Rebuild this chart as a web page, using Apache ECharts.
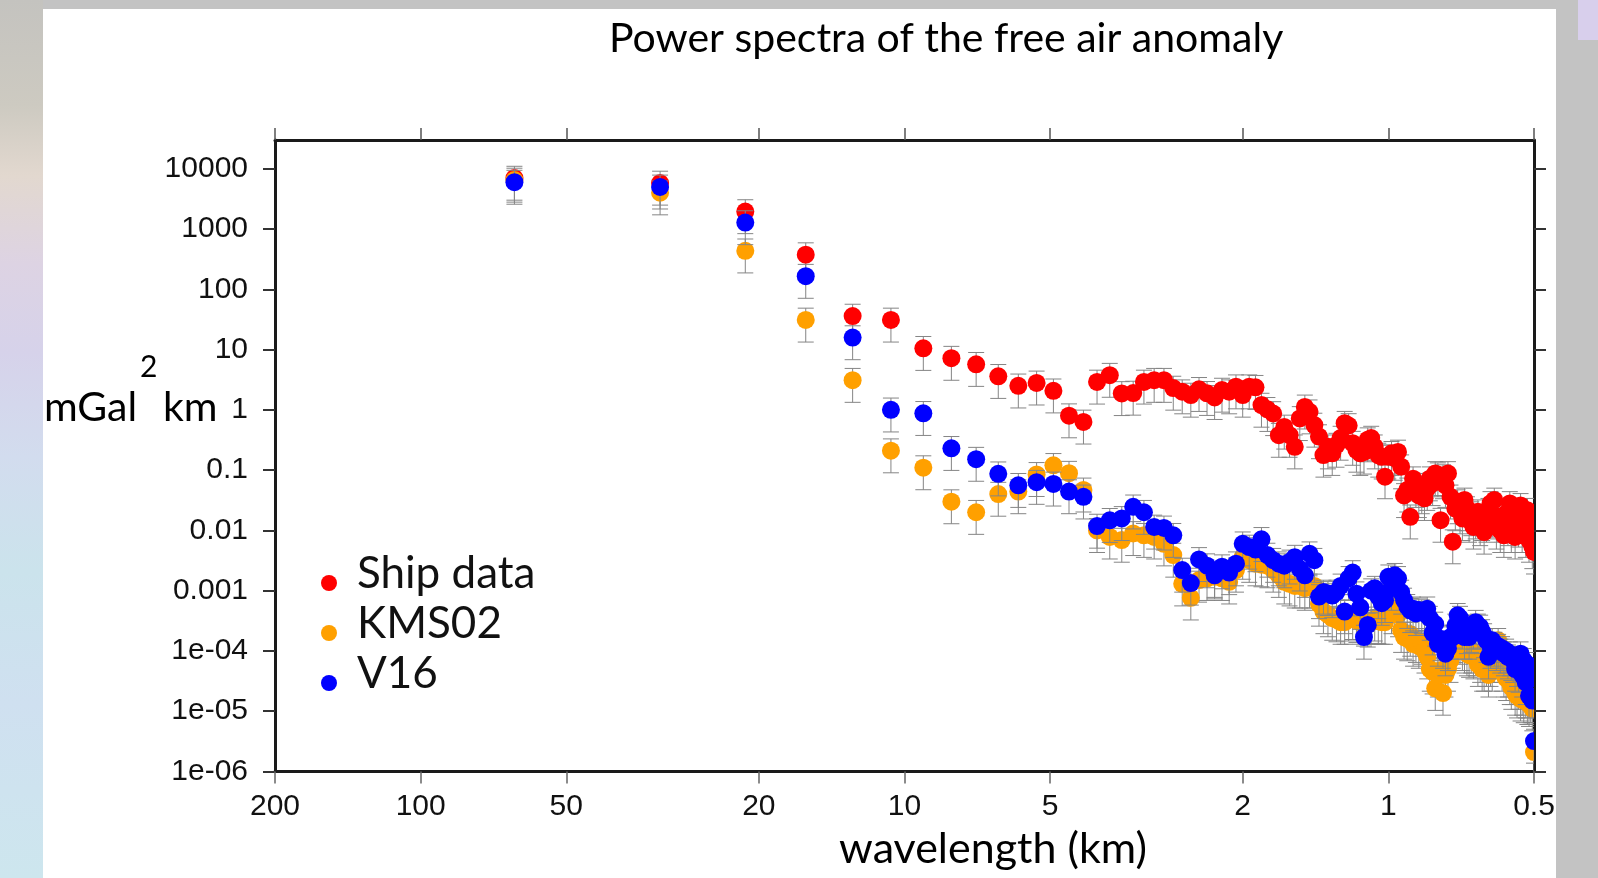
<!DOCTYPE html>
<html>
<head>
<meta charset="utf-8">
<script src="https://cdn.jsdelivr.net/npm/echarts@6/dist/echarts.min.js"></script>
<style>
html,body{margin:0;padding:0;width:1598px;height:878px;overflow:hidden;background:#c3c3c3;}
#strip{position:absolute;left:0;top:0;width:43px;height:878px;
 background:linear-gradient(180deg,#c4c3bf 0%,#cdcac1 12%,#e2d8cf 20%,#ddd3e3 30%,#d6d2ea 40%,#d2dcee 52%,#cbe3ec 65%,#cfe0f0 80%,#cde6ee 100%);}
#panel{position:absolute;left:43px;top:9px;width:1513px;height:869px;background:#ffffff;}
#corner{position:absolute;left:1578px;top:0;width:20px;height:40px;background:#d8cfec;}
#chart{position:absolute;left:0;top:0;width:1598px;height:878px;}
</style>
</head>
<body>
<div id="strip"></div>
<div id="panel"></div>
<div id="corner"></div>
<div id="chart"></div>
<script>
// ---------------- data ----------------
const wavelengthKm = [
 64, 32, 21.333, 16, 12.8, 10.667, 9.143, 8, 7.111, 6.4,
 5.818, 5.333, 4.923, 4.571, 4.267, 4, 3.765, 3.556, 3.368, 3.2,
 3.048, 2.909, 2.783, 2.667, 2.56, 2.462, 2.37, 2.286, 2.207, 2.133,
 2.065, 2, 1.939, 1.882, 1.829, 1.778, 1.73, 1.684, 1.641, 1.6,
 1.561, 1.524, 1.488, 1.455, 1.422, 1.391, 1.362, 1.333, 1.306, 1.28,
 1.255, 1.231, 1.208, 1.185, 1.164, 1.143, 1.123, 1.103, 1.085, 1.067,
 1.049, 1.032, 1.016, 1, 0.985, 0.97, 0.955, 0.941, 0.928, 0.914,
 0.901, 0.889, 0.877, 0.865, 0.853, 0.842, 0.831, 0.821, 0.81, 0.8,
 0.79, 0.78, 0.771, 0.762, 0.753, 0.744, 0.736, 0.727, 0.719, 0.711,
 0.703, 0.696, 0.688, 0.681, 0.674, 0.667, 0.66, 0.653, 0.646, 0.64,
 0.634, 0.627, 0.621, 0.615, 0.61, 0.604, 0.598, 0.593, 0.587, 0.582,
 0.577, 0.571, 0.566, 0.561, 0.557, 0.552, 0.547, 0.542, 0.538, 0.533,
 0.529, 0.525, 0.52, 0.516, 0.512, 0.508, 0.504, 0.5
];

const shipData = [
 7000, 5800, 1950, 376, 36, 31, 10.5, 7.2, 5.7, 3.6,
 2.5, 2.8, 2.07, 0.80, 0.63, 2.9, 3.76, 1.87, 1.9, 2.9,
 3.1, 3.1, 2.3, 2.0, 1.76, 2.19, 1.88, 1.61, 2.13, 2.0,
 2.42, 1.76, 2.42, 2.37, 1.2, 1.02, 0.87, 0.38, 0.52, 0.38,
 0.244, 0.72, 1.12, 0.93, 0.56, 0.36, 0.178, 0.244, 0.19, 0.26,
 0.34, 0.6, 0.55, 0.28, 0.215, 0.19, 0.2, 0.32, 0.34, 0.244,
 0.178, 0.166, 0.078, 0.166, 0.19, 0.158, 0.2, 0.114, 0.038, 0.047,
 0.0168, 0.072, 0.056, 0.038, 0.044, 0.034, 0.05, 0.072, 0.06, 0.088,
 0.084, 0.0148, 0.078, 0.056, 0.088, 0.036, 0.0065, 0.023, 0.03, 0.0204,
 0.0158, 0.032, 0.023, 0.0148, 0.019, 0.0114, 0.0168, 0.0204, 0.013, 0.0158,
 0.0094, 0.0148, 0.0216, 0.028, 0.018, 0.032, 0.0114, 0.0168, 0.01, 0.0148,
 0.0083, 0.019, 0.013, 0.028, 0.01, 0.0168, 0.0078, 0.0204, 0.0123, 0.026,
 0.01, 0.0168, 0.0083, 0.0216, 0.0069, 0.013, 0.0054, 0.0044
];

const kms02 = [
 6500, 4000, 435, 31, 3.1, 0.21, 0.11, 0.030, 0.020, 0.040,
 0.044, 0.085, 0.12, 0.089, 0.047, 0.010, 0.0078, 0.0069, 0.0089, 0.0083,
 0.0078, 0.006, 0.0039, 0.0013, 0.00076, 0.0015, 0.0016, 0.0017, 0.0016, 0.0014,
 0.0022, 0.0036, 0.0032, 0.0028, 0.0027, 0.0026, 0.0022, 0.0018, 0.0014, 0.0013,
 0.0012, 0.0012, 0.0011, 0.0012, 0.0012, 0.0006, 0.00045, 0.0004, 0.00035, 0.00033,
 0.0003, 0.0003, 0.00034, 0.00036, 0.00032, 0.0003, 0.00028, 0.0003, 0.0003, 0.00034,
 0.00031, 0.0003, 0.0003, 0.00055, 0.00045, 0.0006, 0.0004, 0.00022, 0.00017, 0.00016,
 0.00019, 0.00013, 0.00015, 0.00012, 0.00014, 0.0001, 0.00008, 0.00005, 0.000045, 0.000024,
 0.00004, 0.000048, 0.00002, 0.00004, 0.00005, 0.00007, 0.00012, 0.00015, 0.00018, 0.00014,
 0.00011, 0.0001, 0.00009, 0.000085, 0.0001, 0.00008, 0.00009, 0.00006, 0.00007, 0.00005,
 0.00005, 0.00006, 0.00004, 0.00006, 0.00005, 0.00007, 0.00009, 0.00015, 0.00007, 0.00005,
 0.00004, 0.000035, 0.00004, 0.00003, 0.000025, 0.00003, 0.00002, 0.000018, 0.000025, 0.000016,
 0.00002, 0.000015, 0.000018, 0.000014, 0.000013, 0.000015, 0.000011, 0.0000021
];

const v16 = [
 6000, 5000, 1280, 165, 15.8, 1.0, 0.875, 0.23, 0.152, 0.087,
 0.056, 0.063, 0.059, 0.044, 0.036, 0.0118, 0.0147, 0.0158, 0.0246, 0.020,
 0.0114, 0.011, 0.0083, 0.0022, 0.00134, 0.0033, 0.0026, 0.0018, 0.0025, 0.002,
 0.0028, 0.006, 0.0053, 0.0048, 0.0071, 0.0039, 0.0032, 0.0028, 0.0026, 0.003,
 0.0036, 0.0023, 0.0018, 0.0041, 0.0032, 0.0008, 0.00095, 0.0009, 0.00083, 0.00095,
 0.0012, 0.00045, 0.0016, 0.002, 0.00089, 0.00053, 0.00017, 0.00027, 0.001, 0.0011,
 0.0008, 0.00062, 0.00069, 0.0017, 0.0011, 0.0018, 0.0016, 0.00095, 0.0007, 0.00055,
 0.00047, 0.0005, 0.00042, 0.00048, 0.00045, 0.00042, 0.0005, 0.00035, 0.0002, 0.00028,
 0.00013, 0.00016, 0.00012, 0.00009, 0.00011, 0.00017, 0.00017, 0.00026, 0.00039, 0.00035,
 0.00025, 0.00017, 0.00021, 0.00017, 0.00022, 0.00025, 0.0003, 0.00026, 0.00025, 0.00021,
 0.00018, 0.00015, 0.00008, 0.00012, 0.00015, 0.00013, 0.00011, 0.00012, 0.0001, 0.00011,
 0.00009, 0.0001, 0.00008, 0.00009, 0.000075, 0.00007, 0.00005, 0.00006, 0.000048, 0.00009,
 0.00004, 0.00007, 0.00003, 0.00006, 0.000018, 0.00004, 0.000015, 0.0000032
];

// relative error of every spectral estimate (error bars are value*(1 -/+ relError))
const relError = 0.57;

const xTickValues = [200, 100, 50, 20, 10, 5, 2, 1, 0.5];
const xTickLabels = ['200', '100', '50', '20', '10', '5', '2', '1', '0.5'];
const yTickValues = [1e-6, 1e-5, 1e-4, 1e-3, 1e-2, 1e-1, 1, 10, 100, 1000, 10000];
const yTickLabels = ['1e-06', '1e-05', '1e-04', '0.001', '0.01', '0.1', '1', '10', '100', '1000', '10000'];

const seriesNames = ['Ship data', 'KMS02', 'V16'];
const seriesValues = [shipData, kms02, v16];
const seriesColors = ['#ff0000', '#ffa000', '#0000ff'];

const titleText = 'Power spectra of the free air anomaly';
const xName = 'wavelength (km)';

// ---------------- chart ----------------
function labelFor(v, ticks, labels) {
  let best = 0, bd = Infinity;
  for (let i = 0; i < ticks.length; i++) {
    const d = Math.abs(Math.log10(ticks[i]) - Math.log10(v));
    if (d < bd) { bd = d; best = i; }
  }
  return labels[best];
}

const chart = echarts.init(document.getElementById('chart'), null, {renderer: 'canvas'});

const frame = {color: '#1a1a1a', width: 3};
const xCommon = {
  type: 'log', logBase: 10, min: 0.5, max: 200, inverse: true,
  splitLine: {show: false}, minorTick: {show: false}, minorSplitLine: {show: false},
  axisLine: {show: true, onZero: false, lineStyle: frame}
};
const yCommon = {
  type: 'log', logBase: 10, min: 1e-6, max: 3e4,
  splitLine: {show: false}, minorTick: {show: false}, minorSplitLine: {show: false},
  axisLine: {show: true, onZero: false, lineStyle: frame}
};

const series = [];
seriesNames.forEach((name, k) => {
  const vals = seriesValues[k];
  series.push({
    name: name + ' error',
    type: 'custom',
    clip: true,
    silent: true,
    encode: {x: 0, y: [1, 2]},
    data: wavelengthKm.map((w, i) => [w, vals[i] * (1 - relError), vals[i] * (1 + relError)]),
    renderItem: (params, api) => {
      const x = api.value(0);
      const lo = api.coord([x, api.value(1)]);
      const hi = api.coord([x, api.value(2)]);
      const hw = 8;
      const st = {stroke: '#858585', lineWidth: 1};
      return {type: 'group', children: [
        {type: 'line', shape: {x1: lo[0], y1: lo[1], x2: hi[0], y2: hi[1]}, style: st},
        {type: 'line', shape: {x1: lo[0] - hw, y1: lo[1], x2: lo[0] + hw, y2: lo[1]}, style: st},
        {type: 'line', shape: {x1: hi[0] - hw, y1: hi[1], x2: hi[0] + hw, y2: hi[1]}, style: st}
      ]};
    }
  });
  series.push({
    name: name,
    type: 'custom',
    clip: true,
    itemStyle: {color: seriesColors[k]},
    encode: {x: 0, y: 1},
    data: wavelengthKm.map((w, i) => [w, vals[i]]),
    renderItem: (params, api) => {
      const p = api.coord([api.value(0), api.value(1)]);
      return {type: 'circle', shape: {cx: p[0], cy: p[1], r: 9}, style: {fill: api.visual('color')}};
    }
  });
});

const option = {
  animation: false,
  backgroundColor: 'transparent',
  grid: {left: 275, right: 64, top: 140, bottom: 106.5, containLabel: false},
  legend: {
    data: seriesNames.map(n => ({name: n, icon: 'circle'})),
    orient: 'vertical', left: 321, top: 552, padding: 0,
    itemWidth: 46, itemHeight: 16, itemGap: -12,
    selectedMode: false,
    formatter: '{a|{name}}',
    textStyle: {
      fontFamily: 'Lato', fontSize: 44, color: '#111',
      rich: {a: {fontFamily: 'Lato', fontSize: 44, lineHeight: 31, padding: [0, 0, 18, 0], color: '#111'}}
    }
  },
  xAxis: [
    Object.assign({}, xCommon, {
      position: 'bottom',
      axisTick: {show: true, inside: false, length: 12, customValues: xTickValues, lineStyle: {color: '#666', width: 1.5}},
      axisLabel: {show: true, customValues: xTickValues, margin: 20, fontFamily: 'Liberation Sans', fontSize: 30, color: '#111',
        formatter: v => labelFor(v, xTickValues, xTickLabels)}
    }),
    Object.assign({}, xCommon, {
      position: 'top',
      axisTick: {show: true, inside: false, length: 12, customValues: xTickValues, lineStyle: {color: '#555', width: 1.5}},
      axisLabel: {show: false}
    })
  ],
  yAxis: [
    Object.assign({}, yCommon, {
      position: 'left',
      axisTick: {show: true, inside: false, length: 12, customValues: yTickValues, lineStyle: {color: '#333', width: 2}},
      axisLabel: {show: true, customValues: yTickValues, margin: 27, fontFamily: 'Liberation Sans', fontSize: 30, color: '#111',
        formatter: v => labelFor(v, yTickValues, yTickLabels)}
    }),
    Object.assign({}, yCommon, {
      position: 'right',
      axisTick: {show: true, inside: false, length: 12, customValues: yTickValues, lineStyle: {color: '#333', width: 2}},
      axisLabel: {show: false}
    })
  ],
  graphic: [
    {type: 'text', x: 609, y: 39, style: {text: titleText, font: '41px Lato', fill: '#000', textAlign: 'left', verticalAlign: 'middle', textVerticalAlign: 'middle'}},
    {type: 'text', x: 993, y: 849, style: {text: xName, font: '43px Lato', fill: '#000', textAlign: 'center', verticalAlign: 'middle', textVerticalAlign: 'middle'}},
    {type: 'text', x: 44, y: 408, style: {text: 'mGal', font: '41px Lato', fill: '#000', textAlign: 'left', verticalAlign: 'middle', textVerticalAlign: 'middle'}},
    {type: 'text', x: 163, y: 408, style: {text: 'km', font: '41px Lato', fill: '#000', textAlign: 'left', verticalAlign: 'middle', textVerticalAlign: 'middle'}},
    {type: 'text', x: 140, y: 367, style: {text: '2', font: '30px Lato', fill: '#000', textAlign: 'left', verticalAlign: 'middle', textVerticalAlign: 'middle'}}
  ],
  series: series
};
chart.setOption(option);
</script>
</body>
</html>
